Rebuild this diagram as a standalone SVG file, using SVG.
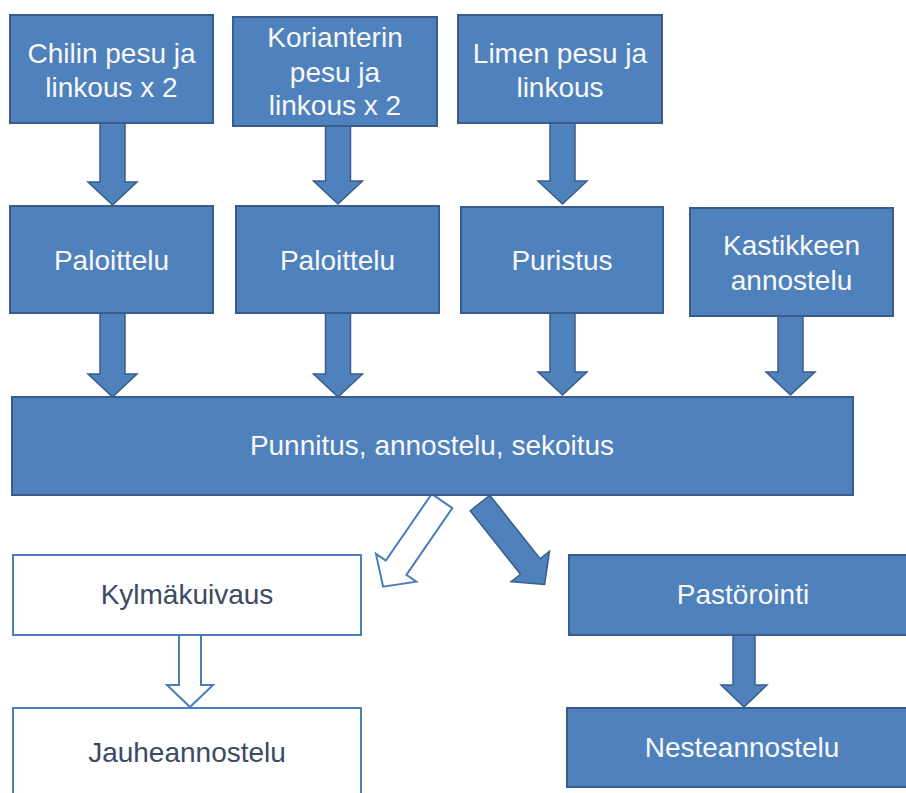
<svg xmlns="http://www.w3.org/2000/svg" width="906" height="793" viewBox="0 0 906 793">
<style>
.box{fill:#4f81bd;stroke:#385d8a;stroke-width:2}
.wbox{fill:#ffffff;stroke:#4a7ebb;stroke-width:2}
.arr{fill:#4f81bd;stroke:#385d8a;stroke-width:1.5;stroke-linejoin:miter}
.harr{fill:#ffffff;stroke:#4a7ebb;stroke-width:2;stroke-linejoin:miter}
text{font-family:"Liberation Sans",Arial,sans-serif;font-size:28px;text-anchor:middle}
.t{fill:#f8f8f8}
.d{fill:#3c4a63}
</style>
<rect width="906" height="793" fill="#ffffff"/>
<g id="connectors">
<polygon class="arr" points="100,123 125,123 125,182 137,182 112.5,205 88,182 100,182"/>
<polygon class="arr" points="325.5,126 350.5,126 350.5,181 362.5,181 338,204 313.5,181 325.5,181"/>
<polygon class="arr" points="550,123 575,123 575,181 587,181 562.5,204 538,181 550,181"/>
<polygon class="arr" points="100,313 125,313 125,374 137,374 112.5,397 88,374 100,374"/>
<polygon class="arr" points="325.5,313 350.5,313 350.5,374 362.5,374 338,397 313.5,374 325.5,374"/>
<polygon class="arr" points="550,313 575,313 575,372 587,372 562.5,395 538,372 550,372"/>
<polygon class="arr" points="778,316 803,316 803,372 815,372 790.5,395 766,372 778,372"/>
<polygon class="harr" transform="translate(442,501) rotate(34.5)" points="-12.5,0 12.5,0 12.5,81 24.5,81 0,104 -24.5,81 -12.5,81"/>
<polygon class="arr" transform="translate(480,503) rotate(-38.4)" points="-12.5,0 12.5,0 12.5,81 24.5,81 0,104 -24.5,81 -12.5,81"/>
<polygon class="harr" points="179,635 201,635 201,685 213,685 190,707 167,685 179,685"/>
<polygon class="arr" points="733,635 755,635 755,685 767,685 744,707 721,685 733,685"/>
</g>
<g id="chilin">
<rect class="box" x="10" y="15" width="203" height="108"/>
<text class="t" x="111.5" y="63">Chilin pesu ja</text>
<text class="t" x="111.5" y="97">linkous x 2</text>
</g>
<g id="korianteri">
<rect class="box" x="233" y="17" width="204" height="109"/>
<text class="t" x="335" y="47">Korianterin</text>
<text class="t" x="335" y="82">pesu ja</text>
<text class="t" x="335" y="115">linkous x 2</text>
</g>
<g id="lime">
<rect class="box" x="458" y="15" width="204" height="108"/>
<text class="t" x="560" y="63">Limen pesu ja</text>
<text class="t" x="560" y="97">linkous</text>
</g>
<g id="paloittelu1">
<rect class="box" x="10" y="206" width="203" height="107"/>
<text class="t" x="111.5" y="270">Paloittelu</text>
</g>
<g id="paloittelu2">
<rect class="box" x="236" y="206" width="203" height="107"/>
<text class="t" x="337.5" y="270">Paloittelu</text>
</g>
<g id="puristus">
<rect class="box" x="461" y="207" width="202" height="106"/>
<text class="t" x="562" y="270">Puristus</text>
</g>
<g id="kastike">
<rect class="box" x="690" y="208" width="203" height="108"/>
<text class="t" x="791.5" y="255">Kastikkeen</text>
<text class="t" x="791.5" y="290">annostelu</text>
</g>
<g id="punnitus">
<rect class="box" x="12" y="397" width="841" height="98"/>
<text class="t" x="432" y="455">Punnitus, annostelu, sekoitus</text>
</g>
<g id="kylmakuivaus">
<rect class="wbox" x="13" y="555" width="348" height="80"/>
<text class="d" x="187" y="604">Kylmäkuivaus</text>
</g>
<g id="jauheannostelu">
<rect class="wbox" x="13" y="708" width="348" height="100"/>
<text class="d" x="187" y="762">Jauheannostelu</text>
</g>
<g id="pastorointi">
<rect class="box" x="569" y="555" width="348" height="80"/>
<text class="t" x="743" y="604">Pastörointi</text>
</g>
<g id="nesteannostelu">
<rect class="box" x="567" y="708" width="350" height="79"/>
<text class="t" x="742" y="757">Nesteannostelu</text>
</g>
</svg>
